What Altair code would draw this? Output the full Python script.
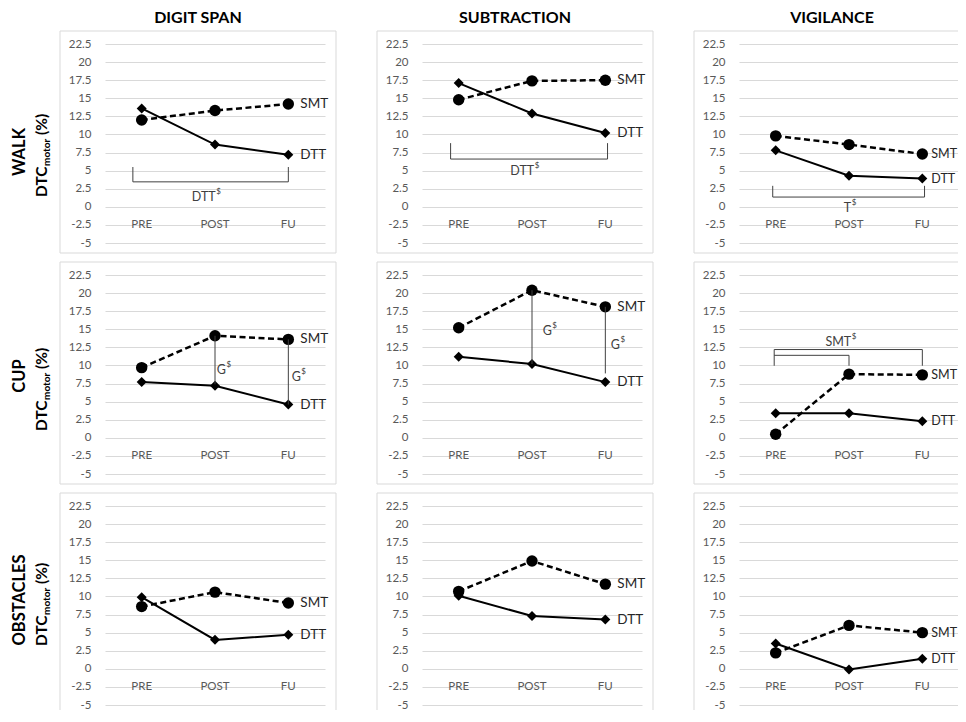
import altair as alt
import pandas as pd

phases = ["PRE", "POST", "FU"]
tasks = ["DIGIT SPAN", "SUBTRACTION", "VIGILANCE"]
conditions = ["WALK", "CUP", "OBSTACLES"]
y_ticks = [-5, -2.5, 0, 2.5, 5, 7.5, 10, 12.5, 15, 17.5, 20, 22.5]

# values per task (DIGIT SPAN, SUBTRACTION, VIGILANCE), each PRE/POST/FU
smt_walk = [[12.0, 13.3, 14.2], [14.8, 17.4, 17.5], [9.8, 8.6, 7.3]]
dtt_walk = [[13.6, 8.6, 7.2], [17.1, 12.9, 10.2], [7.8, 4.3, 3.9]]
smt_cup = [[9.7, 14.1, 13.6], [15.2, 20.4, 18.1], [0.5, 8.8, 8.7]]
dtt_cup = [[7.7, 7.2, 4.6], [11.2, 10.2, 7.7], [3.4, 3.4, 2.3]]
smt_obst = [[8.6, 10.6, 9.1], [10.7, 14.9, 11.7], [2.2, 6.0, 5.0]]
dtt_obst = [[9.9, 4.0, 4.7], [10.1, 7.3, 6.8], [3.5, -0.1, 1.4]]

# annotation segments (x1, y1, x2, y2) in data units (x: PRE=0, POST=1, FU=2)
seg_walk_digit = [(-0.12, 5.5, -0.12, 3.45), (-0.12, 3.45, 2.0, 3.45), (2.0, 3.45, 2.0, 5.5)]
seg_walk_sub = [(-0.11, 8.8, -0.11, 6.6), (-0.11, 6.6, 2.03, 6.6), (2.03, 6.6, 2.03, 8.8)]
seg_walk_vig = [(-0.04, 2.9, -0.04, 1.35), (-0.04, 1.35, 2.03, 1.35), (2.03, 1.35, 2.03, 2.9)]
seg_cup_digit = [(1.0, 14.1, 1.0, 7.4), (2.0, 13.6, 2.0, 4.6)]
seg_cup_sub = [(1.0, 20.4, 1.0, 10.2), (2.0, 18.1, 2.0, 8.9)]
seg_cup_vig = [(-0.02, 12.2, -0.02, 9.96), (-0.02, 12.2, 2.0, 12.2), (2.0, 12.2, 2.0, 9.96),
               (-0.02, 11.4, 1.0, 11.4), (1.0, 11.4, 1.0, 9.96)]
# annotation texts (x anchor = right end of main text, y, text) followed by superscript "$"
txt_walk_digit = [(1.01, 1.4, "DTT")]
txt_walk_sub = [(1.03, 4.9, "DTT")]
txt_walk_vig = [(1.03, -0.15, "T")]
txt_cup_digit = [(1.15, 9.4, "G"), (2.17, 8.4, "G")]
txt_cup_sub = [(1.27, 14.7, "G"), (2.2, 12.8, "G")]
txt_cup_vig = [(1.03, 13.2, "SMT")]

segments = {("WALK", "DIGIT SPAN"): seg_walk_digit, ("WALK", "SUBTRACTION"): seg_walk_sub,
            ("WALK", "VIGILANCE"): seg_walk_vig, ("CUP", "DIGIT SPAN"): seg_cup_digit,
            ("CUP", "SUBTRACTION"): seg_cup_sub, ("CUP", "VIGILANCE"): seg_cup_vig}
texts = {("WALK", "DIGIT SPAN"): txt_walk_digit, ("WALK", "SUBTRACTION"): txt_walk_sub,
         ("WALK", "VIGILANCE"): txt_walk_vig, ("CUP", "DIGIT SPAN"): txt_cup_digit,
         ("CUP", "SUBTRACTION"): txt_cup_sub, ("CUP", "VIGILANCE"): txt_cup_vig}

rows = []
for cond, s_l, d_l in zip(conditions, [smt_walk, smt_cup, smt_obst], [dtt_walk, dtt_cup, dtt_obst]):
    for ti, task in enumerate(tasks):
        for pi, ph in enumerate(phases):
            rows.append(dict(cond=cond, task=task, series="SMT", idx=pi, phase=ph, value=s_l[ti][pi]))
            rows.append(dict(cond=cond, task=task, series="DTT", idx=pi, phase=ph, value=d_l[ti][pi]))
df = pd.DataFrame(rows)

W, H = 220, 199
FONT = "Lato"
title_center = [108, 101, 94]
dtc_center = [107, 110, 94]

xscale = alt.Scale(domain=[-0.5, 2.5], nice=False, zero=False)
yscale = alt.Scale(domain=[-5, 22.5], nice=False, zero=False)
yaxis = alt.Axis(values=y_ticks, labelExpr="'' + datum.value", domain=False, ticks=False,
                 labelPadding=14, labelFont=FONT, labelFontSize=11.5, labelColor="#595959",
                 gridColor="#d9d9d9", gridWidth=1, title=None)


def X(field):
    return alt.X(field, type="quantitative", scale=xscale, axis=None)


def Y(field):
    return alt.Y(field, type="quantitative", scale=yscale, axis=yaxis)


one = alt.Data(values=[{}])


def panel(r, c):
    cond, task = conditions[r], tasks[c]
    sub = df[(df.cond == cond) & (df.task == task)]
    smt = alt.Chart(sub[sub.series == "SMT"])
    dtt = alt.Chart(sub[sub.series == "DTT"])
    last = c == 2
    layers = []
    layers.append(alt.Chart(one).mark_rect(fillOpacity=0, stroke="#d9d9d9", strokeWidth=1).encode(
        x=alt.value(-45), x2=alt.value(231), y=alt.value(-13), y2=alt.value(H + 10)))
    cats = pd.DataFrame({"idx": [0, 1, 2], "label": phases, "y": [-2.5] * 3})
    layers.append(alt.Chart(cats).mark_text(font=FONT, fontSize=11.5, color="#595959").encode(
        x=X("idx"), y=Y("y"), text="label:N"))
    layers.append(dtt.mark_line(color="black", strokeWidth=2).encode(x=X("idx"), y=Y("value")))
    layers.append(smt.mark_line(color="black", strokeWidth=2.5, strokeDash=[6, 3.5]).encode(
        x=X("idx"), y=Y("value")))
    layers.append(dtt.mark_point(shape="diamond", filled=True, size=100, color="black", opacity=1).encode(
        x=X("idx"), y=Y("value")))
    layers.append(smt.mark_point(shape="circle", filled=True, size=130, color="black", opacity=1).encode(
        x=X("idx"), y=Y("value")))
    ends = sub[sub.idx == 2]
    layers.append(alt.Chart(ends).mark_text(align="left", dx=9 if last else 12, font=FONT,
                                            fontSize=12.5 if last else 13.5,
                                            color="#262626").encode(
        x=X("idx"), y=Y("value"), text="series:N"))
    key = (cond, task)
    if key in segments:
        sd = pd.DataFrame(segments[key], columns=["x1", "y1", "x2", "y2"])
        layers.append(alt.Chart(sd).mark_rule(color="#404040", strokeWidth=1).encode(
            x=X("x1"), x2="x2:Q", y=Y("y1"), y2="y2:Q"))
        td = pd.DataFrame(texts[key], columns=["x", "y", "t"])
        layers.append(alt.Chart(td).mark_text(align="right", baseline="middle", font=FONT,
                                              fontSize=12.5, color="#404040").encode(
            x=X("x"), y=Y("y"), text="t:N"))
        layers.append(alt.Chart(td).mark_text(align="left", baseline="middle", dx=0.5, dy=-5, font=FONT,
                                              fontSize=8, color="#404040").encode(
            x=X("x"), y=Y("y"), text=alt.value("$")))
    if r == 0:
        layers.append(alt.Chart(one).mark_text(font=FONT, fontSize=16, fontWeight="bold",
                                               color="black", baseline="middle").encode(
            x=alt.value(93), y=alt.value(-26), text=alt.value(task)))
    if c == 0:
        tc = title_center[r]
        dc = dtc_center[r]
        layers.append(alt.Chart(one).mark_text(font=FONT, fontSize=16.5, fontWeight="bold", angle=270,
                                               align="center", baseline="middle", color="black").encode(
            x=alt.value(-85), y=alt.value(tc), text=alt.value(cond)))
        layers.append(alt.Chart(one).mark_text(font=FONT, fontSize=15.5, fontWeight="bold", angle=270,
                                               align="left", baseline="middle", color="black").encode(
            x=alt.value(-63), y=alt.value(dc + 46), text=alt.value("DTC")))
        layers.append(alt.Chart(one).mark_text(font=FONT, fontSize=10, fontWeight="bold", angle=270,
                                               align="left", baseline="middle", color="black").encode(
            x=alt.value(-58), y=alt.value(dc + 15), text=alt.value("motor")))
        layers.append(alt.Chart(one).mark_text(font=FONT, fontSize=15.5, fontWeight="bold", angle=270,
                                               align="left", baseline="middle", color="black").encode(
            x=alt.value(-63), y=alt.value(dc - 16), text=alt.value("(%)")))
    return alt.layer(*layers).properties(width=W, height=H)


panels = [panel(r, c) for r in range(3) for c in range(3)]
chart = alt.concat(*panels, columns=3, spacing={"row": 32, "column": 97}, bounds="flush").properties(
    padding={"left": 4, "top": 2, "right": -13, "bottom": -6}
).configure_view(stroke=None)

chart.save("out.html", embed_options={"renderer": "svg", "actions": False})
